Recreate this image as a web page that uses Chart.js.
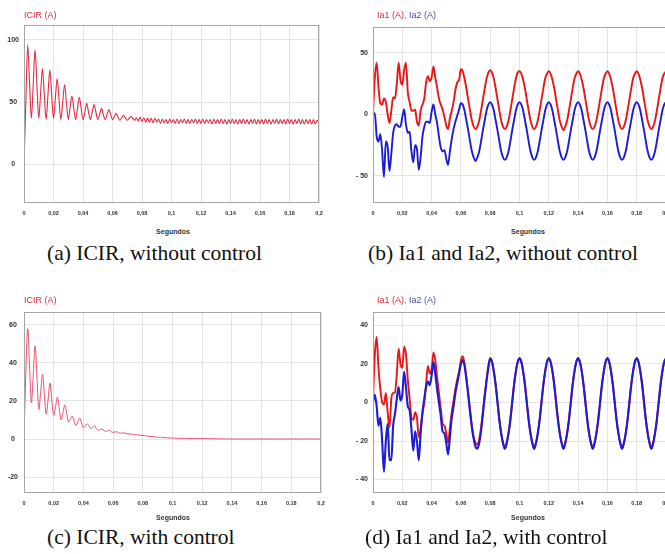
<!DOCTYPE html>
<html lang="en">
<head>
    <meta charset="UTF-8">
    <title>ICIR, Ia1 and Ia2</title>
    <script src="https://cdn.jsdelivr.net/npm/chart.js"></script>
    <style>
        html, body { margin: 0; padding: 0; background: #fff; overflow: hidden; }
        #fig { position: relative; width: 665px; height: 554px; overflow: hidden; font-family: Arial, "Liberation Sans", sans-serif; }
        #fig canvas { position: absolute; }
        .ttl { position: absolute; font-size: 9px; line-height: 10px; white-space: nowrap; }
        .red { color: #e0283f; }
        .blue { color: #4b4fa6; }
        .sep { color: #777; }
        .seg { position: absolute; width: 100px; text-align: center; font-size: 7px; line-height: 8px; font-weight: bold; color: #333; }
        .cap { position: absolute; font-family: "Liberation Serif", "Times New Roman", serif; font-size: 21.5px; line-height: 22px; color: #111; white-space: nowrap; }
    </style>
</head>
<body>
<div id="fig">
    <canvas id="chartA" width="335" height="225" style="left:0;top:0"></canvas>
    <canvas id="chartB" width="365" height="225" style="left:335px;top:0"></canvas>
    <canvas id="chartC" width="335" height="230" style="left:0;top:285px"></canvas>
    <canvas id="chartD" width="365" height="230" style="left:335px;top:285px"></canvas>

    <div class="ttl red" style="left:24px;top:10px">ICIR (A)</div>
    <div class="ttl" style="left:377px;top:10px"><span class="red">Ia1 (A)</span><span class="sep">, </span><span class="blue">Ia2 (A)</span></div>
    <div class="ttl red" style="left:24px;top:295px">ICIR (A)</div>
    <div class="ttl" style="left:377px;top:295px"><span class="red">Ia1 (A)</span><span class="sep">, </span><span class="blue">Ia2 (A)</span></div>

    <div class="seg" style="left:123px;top:228px">Segundos</div>
    <div class="seg" style="left:478px;top:228px">Segundos</div>
    <div class="seg" style="left:123px;top:514px">Segundos</div>
    <div class="seg" style="left:478px;top:514px">Segundos</div>

    <div class="cap" style="left:47px;top:242px">(a) ICIR, without control</div>
    <div class="cap" style="left:368px;top:242px">(b) Ia1 and Ia2, without control</div>
    <div class="cap" style="left:47px;top:526px">(c) ICIR, with control</div>
    <div class="cap" style="left:365px;top:526px">(d) Ia1 and Ia2, with control</div>
</div>

<script>
    // samples every 1.25 ms
    const sampleStep = 0.00125;

    const xTicks = [0, 0.02, 0.04, 0.06, 0.08, 0.1, 0.12, 0.14, 0.16, 0.18, 0.2];
    const xLabels = ['0', '0,02', '0,04', '0,06', '0,08', '0,1', '0,12', '0,14', '0,16', '0,18', '0,2'];

    const yTicksA = [0, 50, 100];
    const yLabelsA = ['0', '50', '100'];
    const yTicksB = [-50, 0, 50];
    const yLabelsB = ['- 50', '0', '50'];
    const yTicksC = [-20, 0, 20, 40, 60];
    const yLabelsC = ['-20', '0', '20', '40', '60'];
    const yTicksD = [-40, -20, 0, 20, 40];
    const yLabelsD = ['- 40', '- 20', '0', '20', '40'];

    // (a) ICIR without control
    const icirA = [
        0, 50, 96, 66, 37, 64, 92, 64,
        37, 57, 77, 56, 36, 56, 76, 56,
        37, 53, 69, 52, 36, 50, 64, 50,
        36, 46, 55, 45, 36, 45, 54, 45,
        36, 42, 49, 42, 36, 42, 48, 42,
        36, 40, 45, 40, 36, 40, 44, 40,
        36, 38.5, 41, 38, 35.5, 37.5, 39.5, 37,
        35.5, 37, 38.5, 37, 35.5, 37.5, 35, 38,
        34.5, 37.5, 34, 37, 34, 37, 33.5, 37,
        34, 36.5, 33, 36.5, 33.5, 36, 33, 36.5,
        33.5, 36, 33, 36.5, 33, 36, 33.5, 36.5,
        33, 36, 33, 36, 33.5, 36.5, 33, 36,
        33, 36.5, 33, 36, 33.5, 36, 32.5, 36.5,
        33, 36, 33, 36.5, 33, 36, 32.5, 36,
        33, 36.5, 33, 36, 32.5, 36, 33, 36.5,
        33, 36, 32.5, 36, 33, 36.5, 32.5, 36,
        33, 36, 32.5, 36.5, 33, 36, 32.5, 36,
        33, 36.5, 32.5, 36, 33, 36, 32.5, 36.5,
        33, 36, 32.5, 36, 33, 36.5, 32.5, 36,
        32.5, 36, 33, 36, 32.5, 36, 32.5, 35.5,
        33
    ];

    // (b) Ia1 / Ia2 without control
    const ia1B = [
        2, 30, 42, 22, 9, 8, 13, 10, 0, -7, 3, 14, 13, 25, 42, 28,
        24, 36, 42, 18, 10, 3, 3, 4, -6, -9, 3, 8, 13, 26, 31, 27,
        30, 39, 30, 22, 13, 8, 4, -2, -9, -12, -3, 3, 10, 20, 26, 28,
        37, 35, 29, 21, 12, 3, -5, -10, -12, -10, -5, 3, 12, 21, 29, 34,
        36, 34, 29, 21, 12, 3, -5, -10, -12, -10, -5, 3, 12, 21, 29, 34,
        35, 33, 28, 21, 12, 3, -5, -10, -12, -10, -5, 3, 12, 21, 29, 33,
        35, 33, 28, 21, 12, 3, -5, -10, -13, -10, -5, 3, 12, 21, 29, 33,
        35, 33, 28, 21, 12, 3, -5, -10, -12, -10, -5, 3, 12, 21, 29, 33,
        35, 33, 28, 21, 12, 3, -5, -10, -12, -10, -5, 3, 12, 21, 29, 33,
        35, 33, 28, 21, 12, 3, -5, -10, -12, -10, -5, 3, 12, 21, 29, 33,
        35
    ];
    const ia2B = [
        0, 1, -18, -22, -16, -30, -51, -22, -26, -46, -32, -15, -9, -8, -10, -10,
        -2, 4, -8, -15, -14, -30, -39, -25, -28, -45, -35, -18, -10, -6, -6, -7,
        2, 8, 0, -7, -18, -27, -30, -29, -36, -41, -30, -20, -12, -6, -1, 4,
        9, 8, 3, -5, -13, -22, -30, -35, -38, -35, -30, -22, -13, -5, 3, 8,
        10, 8, 3, -5, -13, -22, -30, -35, -37, -35, -30, -22, -13, -5, 3, 8,
        10, 8, 3, -5, -13, -22, -30, -35, -37, -35, -30, -22, -13, -5, 3, 8,
        10, 8, 3, -5, -13, -22, -30, -35, -37, -35, -30, -22, -13, -5, 3, 8,
        10, 8, 3, -5, -13, -22, -30, -35, -37, -35, -30, -22, -13, -5, 3, 8,
        10, 8, 3, -5, -13, -22, -30, -35, -37, -35, -30, -22, -13, -5, 3, 8,
        10, 8, 3, -5, -13, -22, -30, -35, -37, -35, -30, -22, -13, -5, 3, 8,
        10
    ];

    // (c) ICIR with control
    const icirC = [
        0, 35, 58, 38, 19, 34, 49, 32,
        15.5, 25, 34, 23, 13, 21, 29.5, 20,
        12.5, 17, 22, 16, 10, 14, 18, 13.5,
        9, 10.5, 12, 9.5, 7, 9, 11, 8.5,
        6, 7, 8, 7, 5.5, 6, 7, 5.5,
        4.5, 5, 5.2, 4.6, 4, 4.3, 4.5, 3.8,
        3.5, 3.7, 3.8, 3.3, 3, 3.2, 3.2, 2.8,
        2.7, 2.6, 2.6, 2.3, 2.2, 2.2, 2.1, 1.9,
        1.8, 1.8, 1.6, 1.5, 1.4, 1.3, 1.2, 1.0,
        0.9, 1.0, 0.8, 0.7, 0.8, 0.6, 0.5, 0.6,
        0.5, 0.4, 0.5, 0.3, 0.4, 0.3, 0.3, 0.4,
        0.3, 0.2, 0.3, 0.2, 0.3, 0.3, 0.2, 0.3,
        0.2, 0.2, 0.3, 0.2, 0.2, 0.1, 0.2, 0.1,
        0.1, 0.1, 0.1, 0.1, 0, 0.1, 0, 0,
        0, 0, 0, 0, 0, 0, 0, 0,
        0, 0, 0, 0, 0, 0, 0, 0,
        0, 0, 0, 0, 0, 0, 0, 0,
        0, 0, 0, 0, 0, 0, 0, 0,
        0, 0, 0, 0, 0, 0, 0, 0,
        0, 0, 0, 0, 0, 0, 0, 0,
        0
    ];

    // (d) Ia1 / Ia2 with control
    const ia1D = [
        2, 25, 34, 18, 7, 0, -1, 5, -5, -13, 2, 5, 5, 15, 28, 20,
        18, 29, 25, 12, 2, -8, -9, -5, -8, -18, -14, -6, 0, 10, 19, 15,
        17, 26, 22, 13, 5, -3, -11, -12, -16, -21, -13, -5, 1, 7, 12, 16,
        22, 24, 20, 13, 5, -4, -12, -18, -21, -22, -19, -13, -5, 4, 12, 19,
        23, 21, 16, 9, 0, -9, -16, -21, -24, -21, -16, -9, 0, 9, 16, 21,
        23, 21, 16, 9, 0, -9, -16, -21, -24, -21, -16, -9, 0, 9, 16, 21,
        23, 21, 16, 9, 0, -9, -16, -21, -24, -21, -16, -9, 0, 9, 16, 21,
        23, 21, 16, 9, 0, -9, -16, -21, -24, -21, -16, -9, 0, 9, 16, 21,
        23, 21, 16, 9, 0, -9, -16, -21, -24, -21, -16, -9, 0, 9, 16, 21,
        23, 21, 16, 9, 0, -9, -16, -21, -24, -21, -16, -9, 0, 9, 16, 21,
        23
    ];
    const ia2D = [
        0, 4, -2, -12, -8, -20, -36, -20, -11, -30, -30, -12, -6, 2, 8, 1,
        4, 16, 8, -2, -4, -14, -25, -15, -20, -30, -16, -5, 2, 8, 11, 9,
        14, 21, 15, 7, 0, -7, -15, -16, -21, -27, -18, -8, -2, 5, 10, 15,
        20, 22, 19, 12, 4, -5, -13, -19, -23, -24, -21, -15, -6, 3, 11, 18,
        23, 21, 16, 9, 0, -9, -16, -21, -24, -21, -16, -9, 0, 9, 16, 21,
        23, 21, 16, 9, 0, -9, -16, -21, -24, -21, -16, -9, 0, 9, 16, 21,
        23, 21, 16, 9, 0, -9, -16, -21, -24, -21, -16, -9, 0, 9, 16, 21,
        23, 21, 16, 9, 0, -9, -16, -21, -24, -21, -16, -9, 0, 9, 16, 21,
        23, 21, 16, 9, 0, -9, -16, -21, -24, -21, -16, -9, 0, 9, 16, 21,
        23, 21, 16, 9, 0, -9, -16, -21, -24, -21, -16, -9, 0, 9, 16, 21,
        23
    ];

    Chart.defaults.font.family = 'Arial, "Liberation Sans", sans-serif';

    function series(values) {
        return values.map((v, i) => ({ x: i * sampleStep, y: v }));
    }

    function trace(values, color, width) {
        return {
            data: series(values),
            borderColor: color,
            borderWidth: width,
            pointRadius: 0,
            fill: false,
            cubicInterpolationMode: 'monotone'
        };
    }

    // grey box round the plot area
    const frame = {
        id: 'frame',
        afterDraw(chart) {
            const a = chart.chartArea, ctx = chart.ctx;
            ctx.save();
            ctx.strokeStyle = '#a6a6a6';
            ctx.lineWidth = 1;
            ctx.strokeRect(a.left + 0.5, a.top + 0.5, a.right - a.left - 1, a.bottom - a.top - 1);
            ctx.restore();
        }
    };

    function drawPanel(id, datasets, yMin, yMax, yTicks, yLabels, box) {
        new Chart(document.getElementById(id), {
            type: 'line',
            data: { datasets: datasets },
            options: {
                responsive: false,
                animation: false,
                events: [],
                layout: { padding: { top: box.top, right: box.right, left: 0, bottom: 0 } },
                plugins: { legend: { display: false }, tooltip: { enabled: false } },
                scales: {
                    x: {
                        type: 'linear',
                        min: 0,
                        max: 0.2,
                        afterBuildTicks: s => { s.ticks = xTicks.map(v => ({ value: v })); },
                        afterFit: s => { s.height = box.axisH; },
                        grid: { color: '#e4e4e4', drawTicks: false },
                        border: { display: false },
                        ticks: {
                            autoSkip: false,
                            maxRotation: 0,
                            padding: 7,
                            color: '#333',
                            font: { size: 5.5, weight: 'bold' },
                            callback: (v, i) => xLabels[i]
                        }
                    },
                    y: {
                        min: yMin,
                        max: yMax,
                        afterBuildTicks: s => { s.ticks = yTicks.map(v => ({ value: v })); },
                        afterFit: s => { s.width = box.axisW; },
                        grid: { color: '#e4e4e4', drawTicks: false },
                        border: { display: false },
                        ticks: {
                            padding: box.pad,
                            crossAlign: box.cross,
                            color: '#333',
                            font: { size: 7, weight: 'bold' },
                            callback: (v, i) => yLabels[i]
                        }
                    }
                }
            },
            plugins: [frame]
        });
    }

    drawPanel('chartA', [trace(icirA, '#e32b45', 1.1)], -31, 112, yTicksA, yLabelsA,
        { top: 25, right: 16, axisW: 24, axisH: 22, pad: 5, cross: 'center' });

    drawPanel('chartB', [trace(ia2B, '#1c1cd6', 1.9), trace(ia1B, '#ec1515', 1.9)], -72, 71, yTicksB, yLabelsB,
        { top: 27, right: 34, axisW: 38, axisH: 22, pad: 5, cross: 'near' });

    drawPanel('chartC', [trace(icirC, '#e8506a', 1)], -28.4, 66.8, yTicksC, yLabelsC,
        { top: 27, right: 14, axisW: 24, axisH: 22, pad: 6, cross: 'center' });

    drawPanel('chartD', [trace(ia2D, '#1c1cd6', 2.1), trace(ia1D, '#ec1515', 1.9)], -47, 47, yTicksD, yLabelsD,
        { top: 27, right: 34, axisW: 38, axisH: 22, pad: 5, cross: 'near' });
</script>
</body>
</html>
